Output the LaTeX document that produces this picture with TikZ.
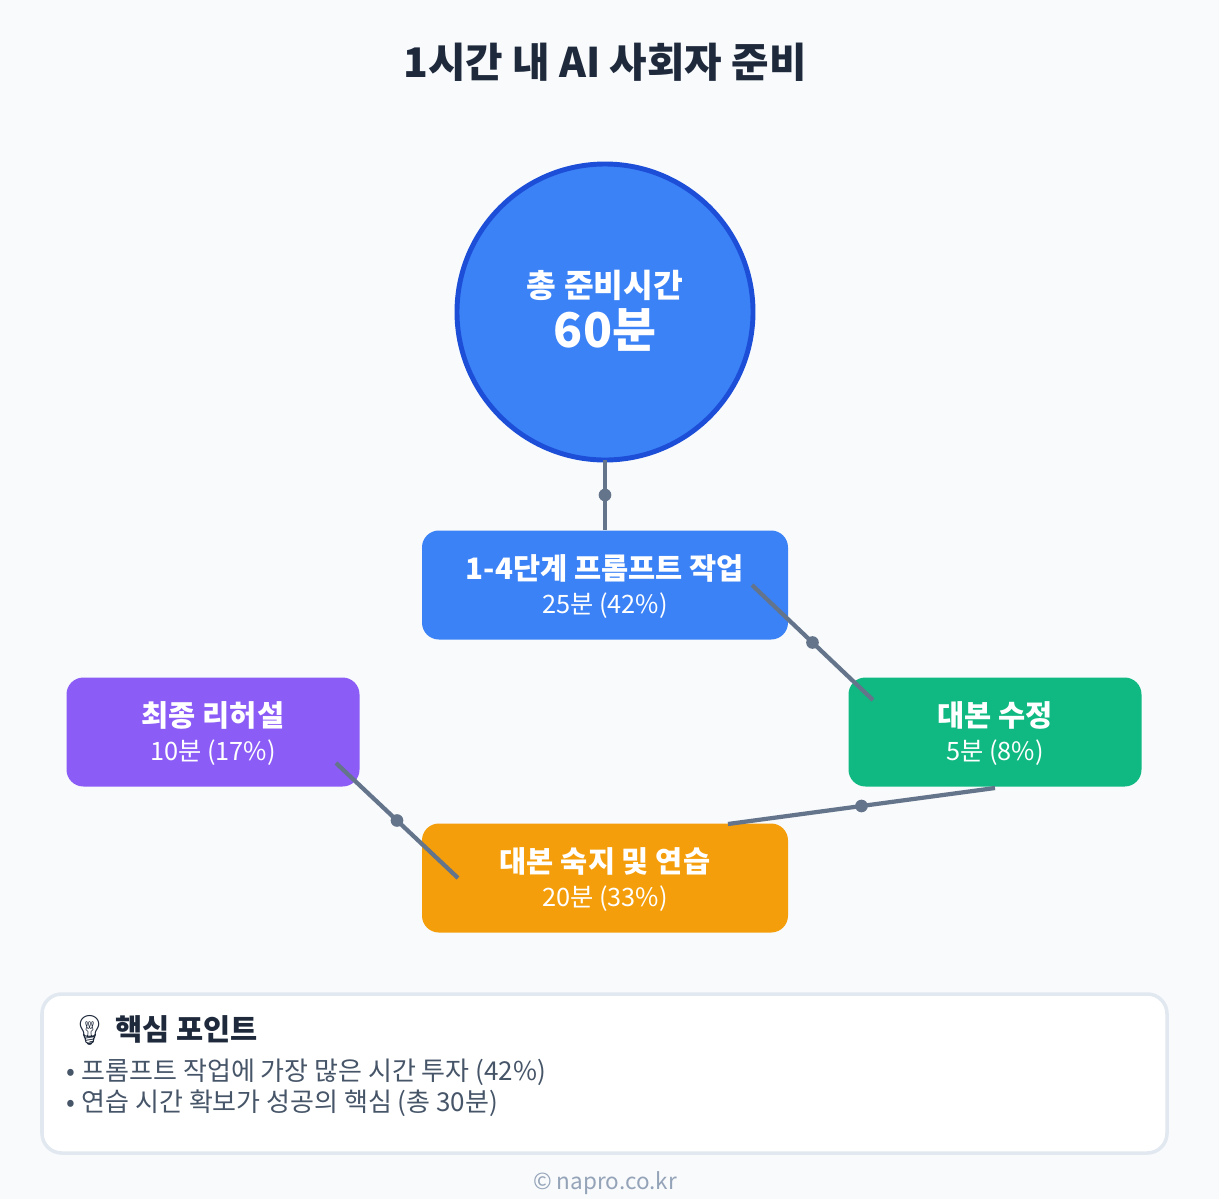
\documentclass[tikz,border=0pt]{standalone}
\usepackage{fontspec}
\setmainfont{Noto Sans CJK KR}
\newfontfamily\emojifont{Noto Emoji}
\definecolor{bgc}{HTML}{F8FAFC}
\definecolor{titlec}{HTML}{1E293B}
\definecolor{bluec}{HTML}{3B82F6}
\definecolor{blueb}{HTML}{1D4ED8}
\definecolor{greenc}{HTML}{10B981}
\definecolor{orangec}{HTML}{F59E0B}
\definecolor{purplec}{HTML}{8B5CF6}
\definecolor{linkc}{HTML}{64748B}
\definecolor{framec}{HTML}{E2E8F0}
\definecolor{textc}{HTML}{475569}
\definecolor{footc}{HTML}{94A3B8}
\tikzset{
  stepbox/.style={rounded corners=12pt, minimum width=366*0.025cm, minimum height=109*0.025cm, inner sep=0pt},
  steptitle/.style={text=white, font=\fontsize{21}{24}\selectfont\bfseries},
  stepsub/.style={text=white, font=\fontsize{18}{22}\selectfont},
  link/.style={linkc, line width=3pt},
  dot/.style={circle, fill=linkc, inner sep=0pt, minimum size=9pt}
}
\begin{document}
\begin{tikzpicture}[x=0.025cm, y=-0.025cm]
  \fill[bgc] (0,0) rectangle (1219,1199);
  \useasboundingbox (0,0) rectangle (1219,1199);
  \node[titlec, font=\fontsize{29}{32}\selectfont\bfseries] (title) at (605,62) {1시간 내 AI 사회자 준비};
  \node[circle, fill=bluec, draw=blueb, line width=3.5pt, minimum size=296*0.025cm] (total) at (605,312) {};
  \node[text=white, font=\fontsize{23}{26}\selectfont\bfseries] (totala) at (605,285) {총 준비시간};
  \node[text=white, font=\fontsize{34}{38}\selectfont\bfseries] (totalb) at (605,330) {60분};
  % step boxes
  \node[stepbox, fill=bluec] (prompt) at (605,585) {};
  \node[stepbox, fill=greenc, minimum width=293*0.025cm] (edit) at (995,732) {};
  \node[stepbox, fill=orangec] (practice) at (605,878) {};
  \node[stepbox, fill=purplec, minimum width=293*0.025cm] (rehearsal) at (213,732) {};
  \node[steptitle] (prompta) at ([yshift=17*0.025cm]prompt.center) {1-4단계 프롬프트 작업};
  \node[stepsub] (promptb) at ([yshift=-21*0.025cm]prompt.center) {25분 (42\%)};
  \node[steptitle] (edita) at ([yshift=17*0.025cm]edit.center) {대본 수정};
  \node[stepsub] (editb) at ([yshift=-21*0.025cm]edit.center) {5분 (8\%)};
  \node[steptitle] (practicea) at ([yshift=17*0.025cm]practice.center) {대본 숙지 및 연습};
  \node[stepsub] (practiceb) at ([yshift=-21*0.025cm]practice.center) {20분 (33\%)};
  \node[steptitle] (rehearsala) at ([yshift=17*0.025cm]rehearsal.center) {최종 리허설};
  \node[stepsub] (rehearsalb) at ([yshift=-21*0.025cm]rehearsal.center) {10분 (17\%)};
  % connectors
  \coordinate (c1) at (605,460); \coordinate (c2) at (605,530);
  \coordinate (c3) at (752,585); \coordinate (c4) at (873,700);
  \coordinate (c5) at (995,788); \coordinate (c6) at (728,824);
  \coordinate (c7) at (458,878); \coordinate (c8) at (336,763);
  \draw[link] (c1) -- node[dot]{} (c2);
  \draw[link] (c3) -- node[dot]{} (c4);
  \draw[link] (c5) -- node[dot]{} (c6);
  \draw[link] (c7) -- node[dot]{} (c8);
  % key points
  \draw[framec, fill=white, line width=2.5pt, rounded corners=14pt] (42,994) rectangle (1167,1153);
  \node[titlec, anchor=west, font=\fontsize{21}{24}\selectfont\bfseries] (keyhead) at (66,1030) {{\emojifont 💡} 핵심 포인트};
  \node[textc, anchor=west, font=\fontsize{18.5}{22}\selectfont] (keya) at (62,1072) {• 프롬프트 작업에 가장 많은 시간 투자 (42\%)};
  \node[textc, anchor=west, font=\fontsize{18.5}{22}\selectfont] (keyb) at (62,1103) {• 연습 시간 확보가 성공의 핵심 (총 30분)};
  \node[footc, font=\fontsize{16}{18}\selectfont] (foot) at (605,1183) {© napro.co.kr};
\end{tikzpicture}
\end{document}
